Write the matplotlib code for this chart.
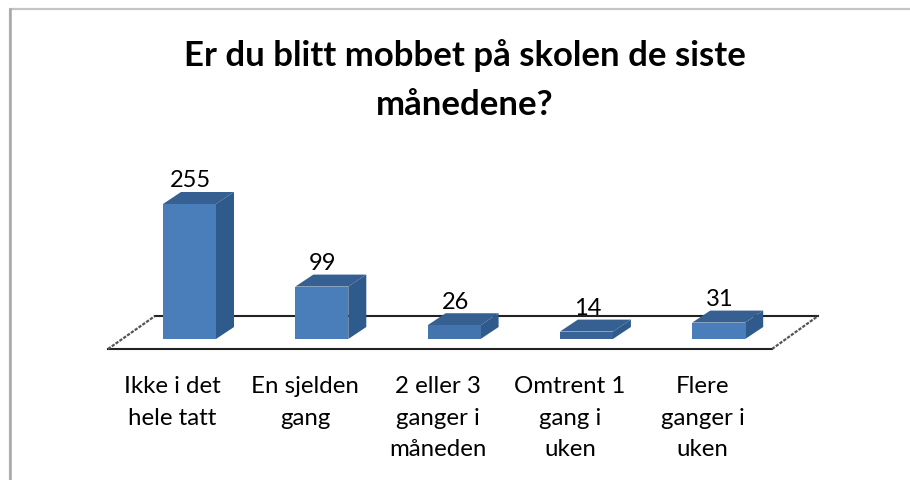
import matplotlib
matplotlib.use('Agg')
import matplotlib.pyplot as plt
from matplotlib.patches import Polygon

title = 'Er du blitt mobbet på skolen de siste\nmånedene?'
categories = ['Ikke i det\nhele tatt', 'En sjelden\ngang', '2 eller 3\nganger i\nmåneden',
              'Omtrent 1\ngang i\nuken', 'Flere\nganger i\nuken']
values = [255, 99, 26, 14, 31]

front_col = ['#4a7ebb', '#4a7ebb', '#4474ad', '#376397', '#4a7ebb']
top_col = '#376092'
side_col = '#2f5a8c'

# figure is laid out in pixels, y downwards
x0 = 163
step = 132.3
bar_w = 53
base = 340
scale = 135 / 255
dx, dy = 18, -12

plt.rcParams['font.family'] = ['Lato', 'DejaVu Sans']
fig = plt.figure(figsize=(9.1, 4.81), dpi=100)
ax = fig.add_axes([0, 0, 1, 1])
ax.set_xlim(0, 910)
ax.set_ylim(481, 0)
ax.axis('off')

# chart border
ax.plot([9.5, 9.5, 910], [481, 10, 10], color='#c4c4c4', lw=1.6, zorder=1)
ax.plot([9.5, 9.5], [481, 10], color='#a8a8a8', lw=1.8, zorder=1)

# floor
ax.plot([155, 818], [317, 317], color='#222222', lw=1.5, zorder=2)
ax.plot([108, 772], [350, 350], color='#222222', lw=1.5, zorder=2)
ax.plot([108, 155], [350, 317], color='#555555', lw=1.6, ls=(0, (1.5, 0.6)), zorder=2)
ax.plot([772, 818], [350, 317], color='#555555', lw=1.6, ls=(0, (1.5, 0.6)), zorder=2)

for i, v in enumerate(values):
    l = x0 + i * step
    r = l + bar_w
    t = base - v * scale
    ax.add_patch(Polygon([(l, t), (r, t), (r + dx, t + dy), (l + dx, t + dy)], fc=top_col, ec='none', zorder=3))
    ax.add_patch(Polygon([(r, t), (r + dx, t + dy), (r + dx, base + dy), (r, base)], fc=side_col, ec='none', zorder=3))
    ax.add_patch(Polygon([(l, t), (r, t), (r, base), (l, base)], fc=front_col[i], ec='none', zorder=4))
    ax.text(l + bar_w / 2 + 1, t + dy - 12, str(v), ha='center', va='center', fontsize=17, color='black', zorder=5)
    ax.text(172.5 + i * 132.5, 376, categories[i], ha='center', va='top', fontsize=17.3,
            color='black', linespacing=1.63, zorder=5)

ax.text(465, 80, title, ha='center', va='center', fontsize=25, fontweight='bold',
        color='black', linespacing=1.62)

fig.savefig('out.png', dpi=100)
